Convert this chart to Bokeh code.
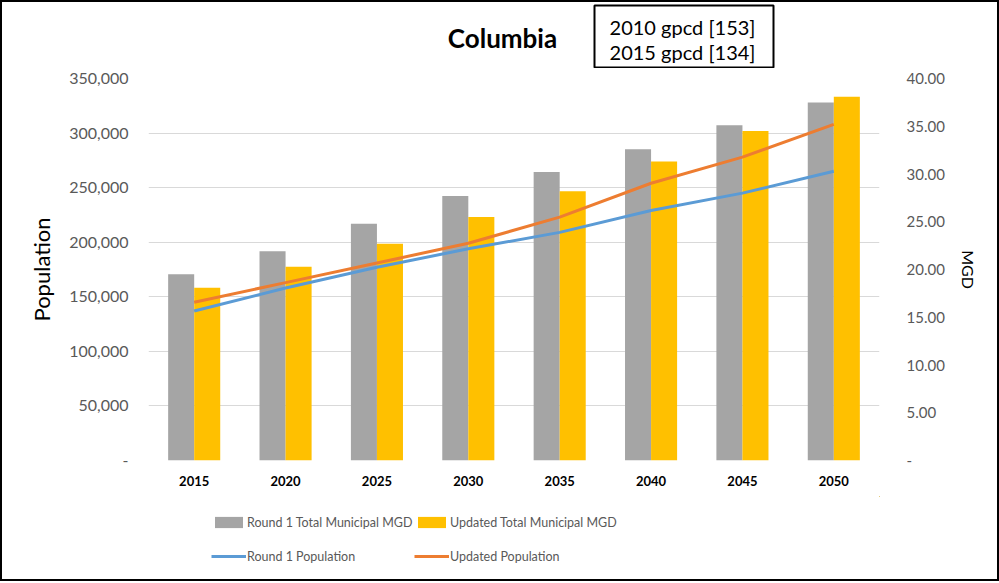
from bokeh.plotting import figure
from bokeh.models import (FactorRange, Range1d, LinearAxis, Legend, LegendItem, Label,
                          BoxAnnotation, CustomJSTickFormatter, ColumnDataSource, FixedTicker)
from bokeh.layouts import column
from bokeh.transform import dodge
from bokeh.embed import file_html
from bokeh.resources import INLINE

# ---- data ----
years = ["2015", "2020", "2025", "2030", "2035", "2040", "2045", "2050"]
round1_mgd = [19.5, 21.9, 24.8, 27.7, 30.2, 32.6, 35.1, 37.5]
updated_mgd = [18.1, 20.3, 22.7, 25.5, 28.2, 31.3, 34.5, 38.1]
round1_pop = [137000, 158000, 177000, 194000, 209000, 229000, 245000, 265000]
updated_pop = [145000, 163000, 181000, 199000, 223000, 254000, 278000, 308000]
pop_ticks = [0, 50000, 100000, 150000, 200000, 250000, 300000, 350000]
mgd_ticks = [0, 5, 10, 15, 20, 25, 30, 35, 40]
series_names = ["Round 1 Total Municipal MGD", "Updated Total Municipal MGD",
                "Round 1 Population", "Updated Population"]
title_text = "Columbia"
box_lines = ["2010 gpcd [153]", "2015 gpcd [134]"]

GRAY, GOLD, BLUE, ORANGE = "#A5A5A5", "#FFC000", "#5B9BD5", "#ED7D31"
FONT = "Lato"
W = 995                      # inner width (2px border each side -> 999)
FL, FR = 146, 877            # plot frame left/right (figure px)

src = ColumnDataSource(dict(year=years, r1m=round1_mgd, upm=updated_mgd,
                            r1p=round1_pop, upp=updated_pop))

# ================= top strip: title + text box =================
HT = 66
top = figure(width=W, height=HT, x_range=Range1d(FL, FR), y_range=Range1d(0, HT),
             x_axis_type=None, y_axis_type=None, output_backend="svg",
             toolbar_location=None, min_border_left=FL, min_border_right=W - FR,
             min_border_top=0, min_border_bottom=0)
top.grid.visible = False
top.outline_line_color = None
top.add_layout(Label(x=500, y=HT - 35, text=title_text, text_font=FONT,
                     text_font_size="26px", text_font_style="bold", text_color="#000000",
                     text_align="center", text_baseline="middle"))
top.add_layout(BoxAnnotation(left=592, right=771, top=HT - 3, bottom=1,
                             fill_alpha=0, line_color="#000000", line_alpha=1,
                             line_width=2))
for i, t in enumerate(box_lines):
    top.add_layout(Label(x=680, y=HT - 24 - 25 * i, text=t, text_font=FONT,
                         text_font_size="20px", text_color="#000000",
                         text_align="center", text_baseline="middle"))

# ================= main chart =================
MT, FH, MB = 10, 382, 36
HM = MT + FH + MB
POP_MAX, MGD_MAX = 350000, 40

p = figure(width=W, height=HM, x_range=FactorRange(*years), y_range=Range1d(0, POP_MAX),
           output_backend="svg", toolbar_location=None, title=None,
           min_border_left=FL, min_border_right=W - FR, min_border_top=MT,
           min_border_bottom=MB)
p.outline_line_color = None
p.extra_y_ranges = {"mgd": Range1d(0, MGD_MAX)}

bw = 0.285
r1 = p.vbar(x=dodge("year", -bw / 2, range=p.x_range), top="r1m", width=bw, source=src,
            y_range_name="mgd", fill_color=GRAY, line_color=None)
r2 = p.vbar(x=dodge("year", bw / 2, range=p.x_range), top="upm", width=bw, source=src,
            y_range_name="mgd", fill_color=GOLD, line_color=None)
l1 = p.line(x="year", y="r1p", source=src, line_color=BLUE, line_width=3)
l2 = p.line(x="year", y="upp", source=src, line_color=ORANGE, line_width=3)

p.xgrid.grid_line_color = None
p.ygrid.grid_line_color = "#D9D9D9"
p.ygrid.ticker = FixedTicker(ticks=pop_ticks)

yax = p.yaxis[0]
yax.ticker = FixedTicker(ticks=pop_ticks)
yax.formatter = CustomJSTickFormatter(code="return tick == 0 ? '-' : tick.toLocaleString('en-US');")
yax.axis_line_color = None
yax.major_tick_line_color = None
yax.minor_tick_line_color = None
yax.major_label_standoff = 14
yax.major_label_text_font = FONT
yax.major_label_text_font_size = "16px"
yax.major_label_text_color = "#595959"
yax.axis_label = "Population"
yax.axis_label_text_font = FONT
yax.axis_label_text_font_size = "22px"
yax.axis_label_text_font_style = "normal"
yax.axis_label_text_color = "#000000"
yax.axis_label_standoff = 11

rax = LinearAxis(y_range_name="mgd", ticker=FixedTicker(ticks=mgd_ticks))
rax.formatter = CustomJSTickFormatter(code="return tick == 0 ? '-' : tick.toFixed(2);")
rax.axis_line_color = None
rax.major_tick_line_color = None
rax.minor_tick_line_color = None
rax.major_label_standoff = 21
rax.major_label_text_font = FONT
rax.major_label_text_font_size = "15px"
rax.major_label_text_color = "#595959"
rax.axis_label = "MGD"
rax.axis_label_orientation = "vertical"
rax.axis_label_text_font = FONT
rax.axis_label_text_font_size = "16px"
rax.axis_label_text_font_style = "normal"
rax.axis_label_text_color = "#000000"
rax.axis_label_standoff = 11
p.add_layout(rax, "right")

xax = p.xaxis[0]
xax.axis_line_color = None
xax.major_tick_line_color = None
xax.minor_tick_line_color = None
xax.separator_line_color = None
xax.major_label_standoff = 9
xax.major_label_text_font = FONT
xax.major_label_text_font_size = "13px"
xax.major_label_text_font_style = "bold"
xax.major_label_text_color = "#000000"

# ================= legend strip =================
HL = 577 - HT - HM
lg = figure(width=W, height=HL, x_range=Range1d(-2, -1), y_range=Range1d(-2, -1),
            x_axis_type=None, y_axis_type=None, output_backend="svg",
            toolbar_location=None, min_border_left=FL, min_border_right=W - FR,
            min_border_top=0, min_border_bottom=0)
lg.grid.visible = False
lg.outline_line_color = None
# legend glyph renderers (same series; they fall outside this strip's ranges)
d1 = lg.vbar(x="r1m", top="r1m", width=1, source=src, fill_color=GRAY, line_color=None)
d2 = lg.vbar(x="upm", top="upm", width=1, source=src, fill_color=GOLD, line_color=None)
d3 = lg.line(x="r1p", y="r1p", source=src, line_color=BLUE, line_width=3)
d4 = lg.line(x="upp", y="upp", source=src, line_color=ORANGE, line_width=3)
items = [LegendItem(label=n, renderers=[r]) for n, r in zip(series_names, [d1, d2, d3, d4])]
# column-major filling: first column = Round 1 entries
legend = Legend(items=[items[0], items[2], items[1], items[3]], ncols=2, location=(63, HL - 77))
legend.padding = 0
legend.margin = 0
legend.spacing = 0
legend.border_line_color = None
legend.background_fill_alpha = 0
legend.glyph_width = 35
legend.glyph_height = 14
legend.label_standoff = 1
legend.label_width = 167
legend.label_height = 34
legend.label_text_font = FONT
legend.label_text_font_size = "12.5px"
legend.label_text_color = "#595959"
lg.add_layout(legend)

layout = column(top, p, lg, spacing=0, styles={"border": "2px solid #000000"})
open("out.html", "w").write(file_html(layout, INLINE))
